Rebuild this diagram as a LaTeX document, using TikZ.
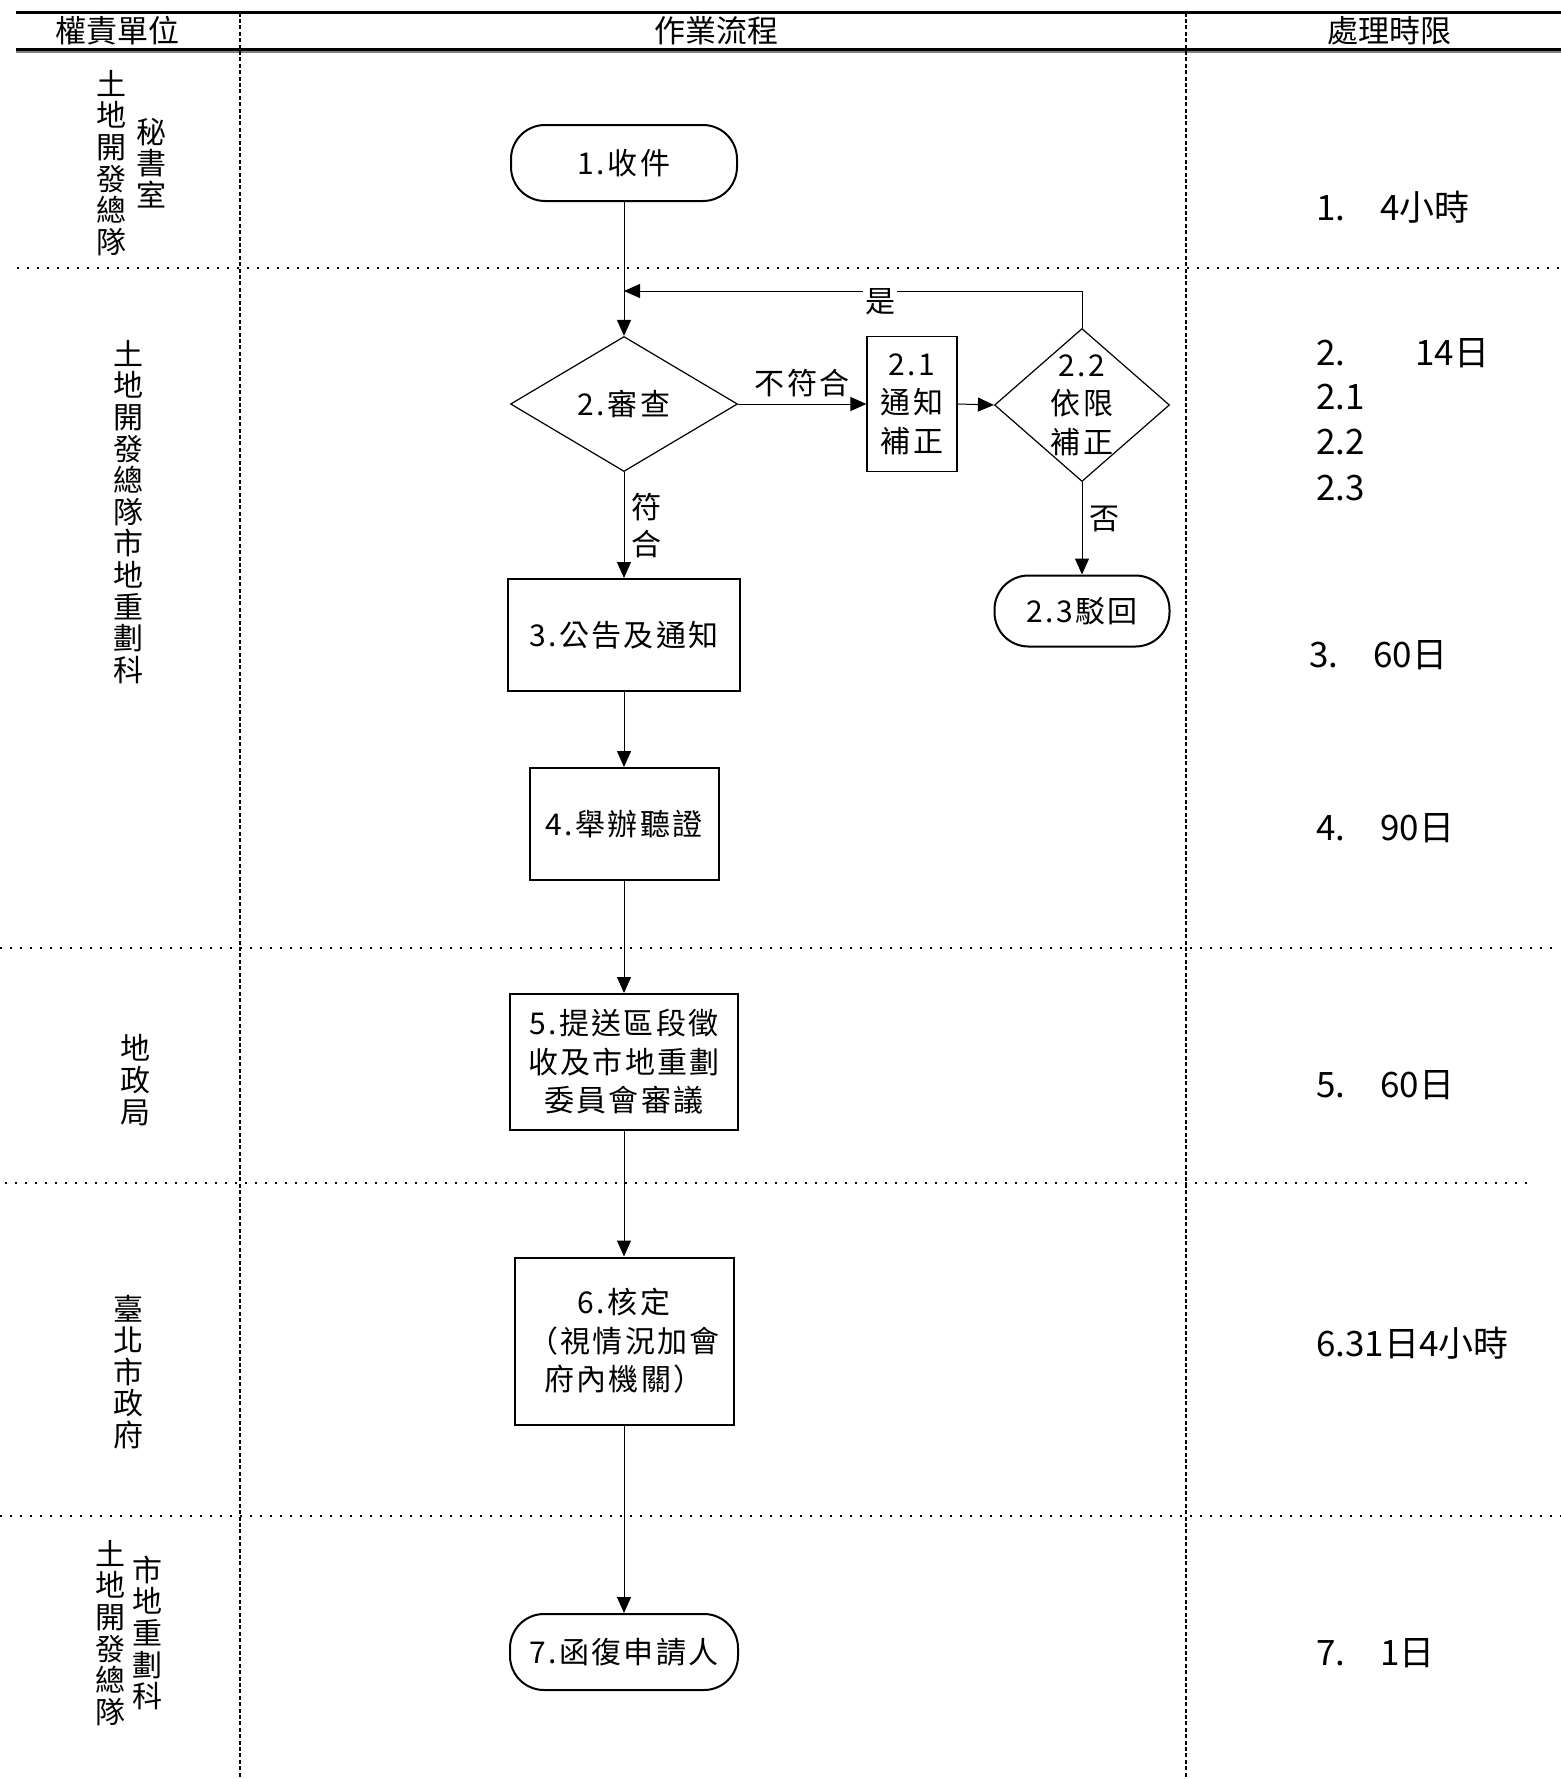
\documentclass[tikz,border=0pt]{standalone}
\usepackage{fontspec}
\setmainfont{Noto Sans CJK TC}
\newfontfamily\flowfont[LetterSpace=8]{Noto Sans CJK TC}
\usetikzlibrary{shapes.geometric,arrows.meta}

\begin{document}
\begin{tikzpicture}[x=0.5pt,y=-0.5pt,
    head/.style={font=\fontsize{15.5}{18}\selectfont},
    unit/.style={align=center,inner sep=0pt,font=\fontsize{15}{15.8}\selectfont},
    limit/.style={anchor=west,inner sep=0pt,font=\fontsize{17.5}{20}\selectfont},
    task/.style={draw,line width=1pt,align=center,inner sep=0pt,font=\flowfont\fontsize{15}{19.3}\selectfont},
    term/.style={task,rounded corners=17pt},
    ask/.style={draw,diamond,line width=0.6pt,inner sep=0pt,align=center,font=\flowfont\fontsize{15}{19.3}\selectfont},
    note/.style={font=\flowfont\fontsize{15}{18.5}\selectfont,align=center},
    flow/.style={line width=0.5pt,-{Triangle[length=8pt,width=7pt]}},
    lane/.style={line width=0.9pt,dash pattern=on 1pt off 4pt},
    col/.style={line width=0.6pt,dash pattern=on 2pt off 1.2pt}]
          \useasboundingbox (0,0) rectangle (1561,1779);
          % table frame
          \draw[line width=1.5pt] (16,12.5)--(1561,12.5);
          \draw[line width=1.2pt] (16,49.5)--(1561,49.5);
          \draw[gray,line width=1pt] (16,52)--(1561,52);
          \draw[col] (240,12.5)--(240,1779);
          \draw[col] (1186,12.5)--(1186,1779);
          \draw[lane] (17,268)--(1561,268);
          \draw[lane] (0,948)--(1553,948);
          \draw[lane] (5,1183)--(1527,1183);
          \draw[lane] (0,1516)--(1561,1516);
          \node[head] (h1) at (117,31) {權責單位};
          \node[head] (h2) at (716,31) {作業流程};
          \node[head] (h3) at (1389,31) {處理時限};
          % units
          \node[unit] (u1a) at (111,163) {土\\地\\開\\發\\總\\隊};
          \node[unit] (u1b) at (151,163) {秘\\書\\室};
          \node[unit] (u2) at (128,512) {土\\地\\開\\發\\總\\隊\\市\\地\\重\\劃\\科};
          \node[unit] (u3) at (135,1080) {地\\政\\局};
          \node[unit] (u4) at (128,1372) {臺\\北\\市\\政\\府};
          \node[unit] (u5a) at (110,1633) {土\\地\\開\\發\\總\\隊};
          \node[unit] (u5b) at (147,1633) {市\\地\\重\\劃\\科};
          % steps
          \node[term,minimum width=113pt,minimum height=38pt] (t1) at (624,163) {1.收件};
          \node[ask,aspect=1.68,minimum width=113.5pt,minimum height=67.5pt] (d2) at (624,404) {2.審查};
          \node[task,line width=0.6pt,minimum width=45pt,minimum height=67.5pt] (b21) at (912,404) {2.1\\通知\\補正};
          \node[ask,aspect=1.14,minimum width=87.5pt,minimum height=76.5pt,
                label={[note,font=\flowfont\fontsize{15}{19.3}\selectfont]center:2.2\\依限\\補正}] (d22) at (1082,405) {};
          \node[term,minimum width=87.5pt,minimum height=35.5pt] (t23) at (1082,611) {2.3駁回};
          \node[task,minimum width=116pt,minimum height=56pt] (b3) at (624,635) {3.公告及通知};
          \node[task,minimum width=94.5pt,minimum height=56pt] (b4) at (624,824) {4.舉辦聽證};
          \node[task,minimum width=114pt,minimum height=68pt] (b5) at (624,1062) {5.提送區段徵\\收及市地重劃\\委員會審議};
          \node[task,minimum width=109.5pt,minimum height=83.5pt] (b6) at (624,1341) {6.核定\\（視情況加會\\府內機關）};
          \node[term,minimum width=114pt,minimum height=38pt] (t7) at (624,1652) {7.函復申請人};
          \coordinate (back) at (624,291);
          % arrows
          \draw[flow] (t1.south)--(d2.north);
          \draw[flow] (d2.east)--node[note,above]{不符合} (b21.west);
          \draw[flow] (b21.east)--(d22.west);
          \draw[flow] (d22.north)|-node[note,pos=0.72,fill=white,inner sep=1pt,yshift=-5.5pt]{是} (back);
          \draw[flow] (d22.south)--node[note,right,pos=0.4]{否} (t23.north);
          \draw[flow] (d2.south)--node[note,right]{符\\合} (b3.north);
          \draw[flow] (b3.south)--(b4.north);
          \draw[flow] (b4.south)--(b5.north);
          \draw[flow] (b5.south)--(b6.north);
          \draw[flow] (b6.south)--(t7.north);
          % time limits
          \node[limit] (r1) at (1316,207) {1.　4小時};
          \node[limit] (r2) at (1316,353) {2.　　14日};
          \node[limit] (r21) at (1316,397) {2.1};
          \node[limit] (r22) at (1316,442) {2.2};
          \node[limit] (r23) at (1316,488) {2.3};
          \node[limit] (r3) at (1309,655) {3.　60日};
          \node[limit] (r4) at (1316,828) {4.　90日};
          \node[limit] (r5) at (1316,1085) {5.　60日};
          \node[limit] (r6) at (1316,1343) {6.31日4小時};
          \node[limit] (r7) at (1316,1653) {7.　1日};
        \end{tikzpicture}
\end{document}
